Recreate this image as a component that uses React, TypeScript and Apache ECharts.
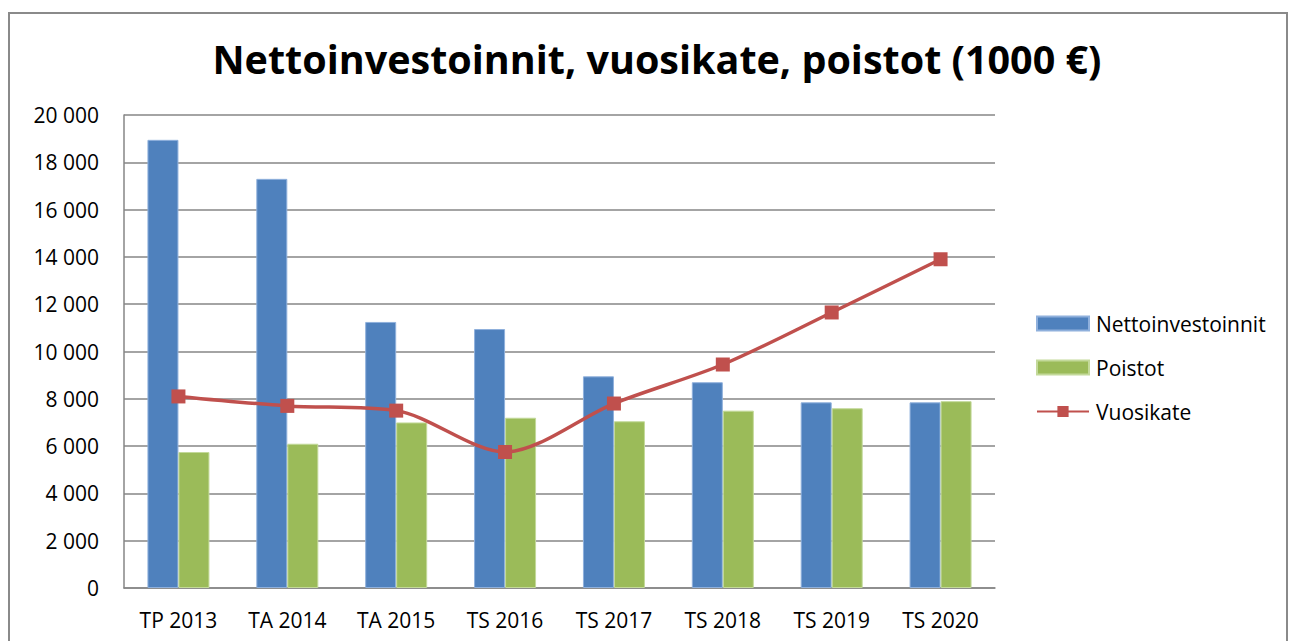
import React, { useEffect, useRef } from "react";
import * as echarts from "echarts";

const categories = ["TP 2013", "TA 2014", "TA 2015", "TS 2016", "TS 2017", "TS 2018", "TS 2019", "TS 2020"];
const nettoinvestoinnit = [18950, 17300, 11250, 10950, 8950, 8700, 7850, 7850];
const poistot = [5750, 6100, 7000, 7200, 7050, 7500, 7600, 7900];
const vuosikate = [8100, 7700, 7500, 5750, 7800, 9450, 11650, 13900];
const titleText = "Nettoinvestoinnit, vuosikate, poistot (1000 €)";

const FONT = "'Open Sans', 'Noto Sans', sans-serif";

export default function App() {
  const ref = useRef<HTMLDivElement>(null);
  useEffect(() => {
    if (!ref.current) return;
    const chart = echarts.init(ref.current, null, { renderer: "svg" });
    chart.setOption({
      animation: false,
      backgroundColor: "#ffffff",
      title: {
        text: titleText,
        left: 652,
        top: 34,
        textAlign: "center",
        textStyle: { fontFamily: FONT, fontWeight: "bold", fontSize: 39.5, color: "#000" },
      },
      graphic: [
        {
          type: "rect",
          shape: { x: 9, y: 13, width: 1278, height: 660 },
          style: { fill: "none", stroke: "#8a8a8a", lineWidth: 2 },
          silent: true,
        },
      ],
      legend: {
        orient: "vertical",
        left: 1036,
        top: 313,
        padding: 0,
        itemWidth: 52,
        itemHeight: 14,
        itemGap: 23,
        textStyle: { fontFamily: FONT, fontSize: 21, color: "#000", padding: [0, 0, 0, 2] },
        data: [
          { name: "Nettoinvestoinnit", icon: "rect" },
          { name: "Poistot", icon: "rect" },
          { name: "Vuosikate" },
        ],
      },
      grid: { left: 124, top: 115, width: 871, height: 473, containLabel: false },
      xAxis: {
        type: "category",
        data: categories,
        axisLine: { show: true, lineStyle: { color: "#868686", width: 1.5 } },
        axisTick: { show: false },
        axisLabel: { fontFamily: FONT, fontSize: 21, color: "#000", margin: 21 },
      },
      yAxis: {
        type: "value",
        min: 0,
        max: 20000,
        interval: 2000,
        axisLine: { show: true, lineStyle: { color: "#868686", width: 1.5 } },
        axisTick: { show: false },
        splitLine: { show: true, lineStyle: { color: "#868686", width: 1.5 } },
        axisLabel: {
          fontFamily: FONT,
          fontSize: 21,
          color: "#000",
          margin: 25,
          formatter: (v: number) => String(v).replace(/\B(?=(\d{3})+(?!\d))/g, " "),
        },
      },
      series: [
        {
          name: "Nettoinvestoinnit",
          type: "bar",
          data: nettoinvestoinnit,
          barWidth: 31,
          barGap: "0%",
          itemStyle: { color: "#4F81BD", borderColor: "#8fb0dc", borderWidth: 1 },
        },
        {
          name: "Poistot",
          type: "bar",
          data: poistot,
          barWidth: 31,
          itemStyle: { color: "#9BBB59", borderColor: "#c3d99a", borderWidth: 1 },
        },
        {
          name: "Vuosikate",
          type: "line",
          data: vuosikate,
          smooth: 0.3,
          symbol: "rect",
          symbolSize: 14,
          lineStyle: { color: "#C0504D", width: 3.5 },
          itemStyle: { color: "#C0504D" },
          z: 5,
        },
      ],
    });
    return () => chart.dispose();
  }, []);
  return (
    <div
      ref={ref}
      style={{ position: "fixed", left: 0, top: 0, width: 1296, height: 641 }}
    />
  );
}
